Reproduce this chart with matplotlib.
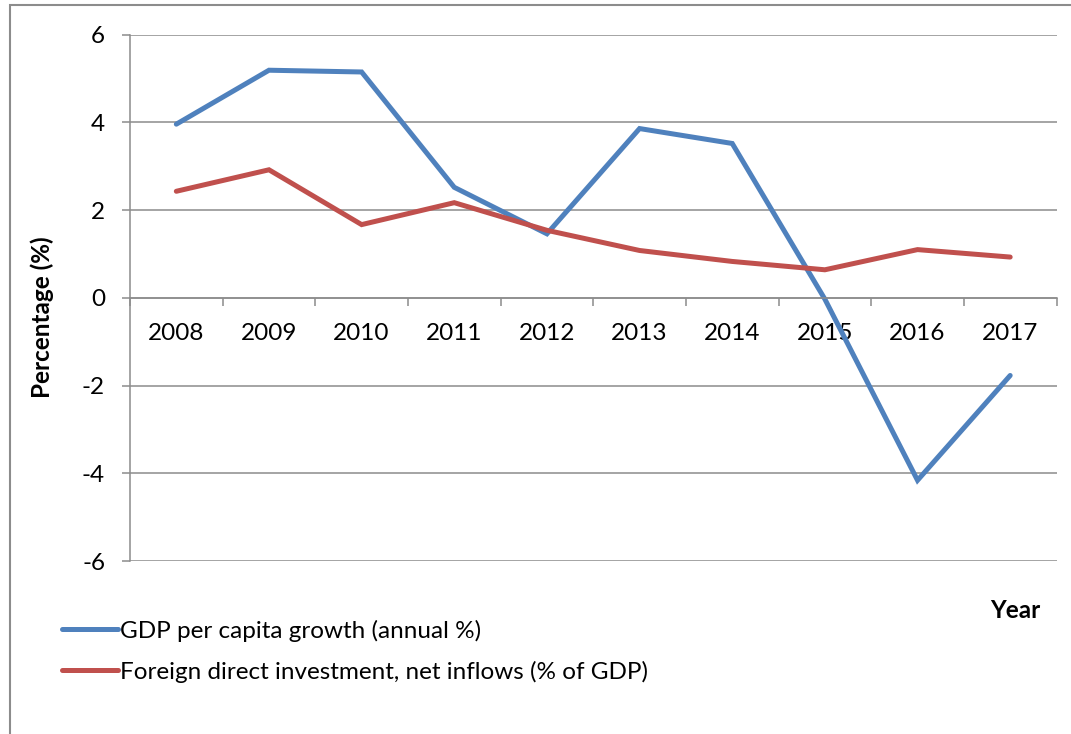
import matplotlib
matplotlib.use("Agg")
import matplotlib.pyplot as plt
from matplotlib.lines import Line2D
from matplotlib.patches import Rectangle
from matplotlib.ticker import FixedLocator, NullFormatter

plt.rcParams['font.family'] = ['Lato', 'DejaVu Sans']
plt.rcParams['axes.unicode_minus'] = False

years = ['2008', '2009', '2010', '2011', '2012', '2013', '2014', '2015', '2016', '2017']
gdp_growth = [3.96, 5.19, 5.15, 2.52, 1.46, 3.86, 3.52, -0.03, -4.16, -1.77]
fdi_inflows = [2.43, 2.92, 1.67, 2.17, 1.54, 1.08, 0.83, 0.64, 1.10, 0.93]
y_ticks = [-6, -4, -2, 0, 2, 4, 6]

blue = '#4F81BD'
red = '#C0504D'
grey = '#8C8C8C'
W, H = 1071, 734
fs = 17.5

fig = plt.figure(figsize=(W / 100, H / 100), dpi=100)
ax = fig.add_axes([130 / W, 1 - 561 / H, (1056.5 - 130) / W, (561 - 34.7) / H])

# outer chart frame (only top and left edges are visible)
fig.patches.append(Rectangle((10 / W, -0.1), 1.2, 1.1 - 5 / H, transform=fig.transFigure,
                             fill=False, edgecolor=grey, linewidth=1.5))

x = list(range(len(years)))
ax.plot(x, gdp_growth, color=blue, linewidth=3.6, solid_capstyle='round', solid_joinstyle='miter',
        label='GDP per capita growth (annual %)')
ax.plot(x, fdi_inflows, color=red, linewidth=3.6, solid_capstyle='round', solid_joinstyle='miter',
        label='Foreign direct investment, net inflows (% of GDP)')

ax.set_xlim(-0.5, len(years) - 0.5)
ax.set_ylim(-6, 6)
ax.set_yticks(y_ticks)
ax.yaxis.grid(True, color=grey, linewidth=1.1)
ax.set_axisbelow(True)

for side in ['top', 'right']:
    ax.spines[side].set_visible(False)
ax.spines['left'].set_color(grey)
ax.spines['left'].set_linewidth(1.1)
ax.spines['bottom'].set_position(('data', 0))
ax.spines['bottom'].set_color(grey)
ax.spines['bottom'].set_linewidth(1.1)

# category boundaries get the tick marks, labels sit between them
ax.xaxis.set_major_locator(FixedLocator([i - 0.5 for i in range(len(years) + 1)]))
ax.xaxis.set_major_formatter(NullFormatter())
ax.xaxis.set_minor_locator(FixedLocator(x))
ax.set_xticklabels(years, minor=True)
ax.tick_params(axis='x', which='major', direction='out', length=6, width=1.1, color=grey)
ax.tick_params(axis='x', which='minor', length=0, pad=18, labelsize=fs)
ax.tick_params(axis='y', direction='out', length=6, width=1.1, color=grey, pad=12, labelsize=fs)

fig.text(42 / W, 1 - 317 / H, 'Percentage (%)', rotation=90, ha='center', va='center',
         fontsize=fs, fontweight='bold')
fig.text(1015 / W, 1 - 610 / H, 'Year', ha='center', va='center', fontsize=fs, fontweight='bold')

handles = [Line2D([], [], color=blue, linewidth=3.6, solid_capstyle='round'),
           Line2D([], [], color=red, linewidth=3.6, solid_capstyle='round')]
fig.legend(handles, ['GDP per capita growth (annual %)', 'Foreign direct investment, net inflows (% of GDP)'],
           loc='upper left', bbox_to_anchor=(52 / W, 1 - 610 / H), frameon=False, fontsize=fs,
           handlelength=2.3, handletextpad=0.1, labelspacing=0.78, borderaxespad=0)

fig.savefig('out.png', dpi=100)
